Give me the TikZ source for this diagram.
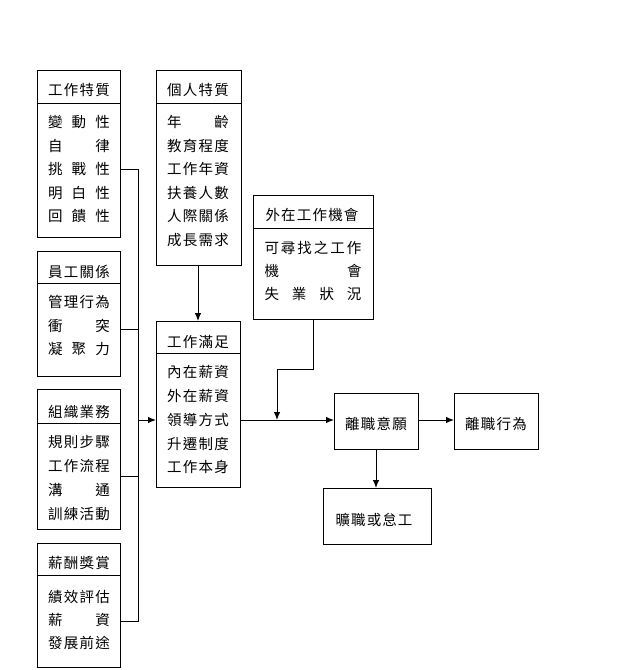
\documentclass[tikz,border=0pt]{standalone}
\usepackage{fontspec}
\setmainfont{Noto Sans CJK TC}
\usetikzlibrary{arrows.meta}
\newcommand\jr[2]{\makebox[#1][s]{#2}}
\tikzset{
  box/.style={draw, line width=1pt, inner sep=0pt, outer sep=0pt},
  txt/.style={inner sep=0pt, font=\fontsize{14.5}{14.5}\selectfont},
  conn/.style={line width=1pt},
  arr/.style={conn, -{Latex[length=8pt,width=6.5pt]}},
}
\begin{document}
\begin{tikzpicture}[x=1pt,y=-1pt]
\fill[white] (0,0) rectangle (640,670);
\useasboundingbox (0,0) rectangle (640,670);
% boxes
\node[box, minimum width=83pt, minimum height=167pt] (b1) at (78.5,153.5) {};
\node[box, minimum width=85pt, minimum height=195pt] (b2) at (198.5,167.5) {};
\node[box, minimum width=83pt, minimum height=125pt] (b3) at (78.5,313.5) {};
\node[box, minimum width=83pt, minimum height=140pt] (b4) at (78.5,459) {};
\node[box, minimum width=83pt, minimum height=124pt] (b5) at (78.5,605) {};
\node[box, minimum width=84pt, minimum height=166pt] (b6) at (198,404) {};
\node[box, minimum width=120pt, minimum height=124pt] (b7) at (313,257) {};
\node[box, minimum width=84pt, minimum height=56pt] (b8) at (376,421) {};
\node[box, minimum width=84pt, minimum height=56pt] (b9) at (496,421) {};
\node[box, minimum width=108pt, minimum height=56pt] (b10) at (377,516) {};
% dividers
\draw[conn] (b1.west |- 0,103) -- (b1.east |- 0,103);
\draw[conn] (b2.west |- 0,103) -- (b2.east |- 0,103);
\draw[conn] (b3.west |- 0,283) -- (b3.east |- 0,283);
\draw[conn] (b4.west |- 0,423) -- (b4.east |- 0,423);
\draw[conn] (b5.west |- 0,575) -- (b5.east |- 0,575);
\draw[conn] (b6.west |- 0,353) -- (b6.east |- 0,353);
\draw[conn] (b7.west |- 0,228) -- (b7.east |- 0,228);
% texts box1
\node[txt] (t1) at (79,90) {\jr{62pt}{工\hfill 作\hfill 特\hfill 質}};
\node[txt] (t1a) at (79,122) {\jr{62pt}{變\hfill 動\hfill 性}};
\node[txt] (t1b) at (79,146) {\jr{62pt}{自\hfill 律}};
\node[txt] (t1c) at (79,169) {\jr{62pt}{挑\hfill 戰\hfill 性}};
\node[txt] (t1d) at (79,193) {\jr{62pt}{明\hfill 白\hfill 性}};
\node[txt] (t1e) at (79,216) {\jr{62pt}{回\hfill 饋\hfill 性}};
% box2
\node[txt] (t2) at (198,90) {\jr{62pt}{個\hfill 人\hfill 特\hfill 質}};
\node[txt] (t2a) at (198,122) {\jr{62pt}{年\hfill 齡}};
\node[txt] (t2b) at (198,146) {\jr{62pt}{教\hfill 育\hfill 程\hfill 度}};
\node[txt] (t2c) at (198,169) {\jr{62pt}{工\hfill 作\hfill 年\hfill 資}};
\node[txt] (t2d) at (198,193) {\jr{62pt}{扶\hfill 養\hfill 人\hfill 數}};
\node[txt] (t2e) at (198,216) {\jr{62pt}{人\hfill 際\hfill 關\hfill 係}};
\node[txt] (t2f) at (198,240) {\jr{62pt}{成\hfill 長\hfill 需\hfill 求}};
% box3
\node[txt] (t3) at (79,272) {\jr{62pt}{員\hfill 工\hfill 關\hfill 係}};
\node[txt] (t3a) at (79,302) {\jr{62pt}{管\hfill 理\hfill 行\hfill 為}};
\node[txt] (t3b) at (79,326) {\jr{62pt}{衝\hfill 突}};
\node[txt] (t3c) at (79,349) {\jr{62pt}{凝\hfill 聚\hfill 力}};
% box4
\node[txt] (t4) at (79,412) {\jr{62pt}{組\hfill 織\hfill 業\hfill 務}};
\node[txt] (t4a) at (79,442) {\jr{62pt}{規\hfill 則\hfill 步\hfill 驟}};
\node[txt] (t4b) at (79,466) {\jr{62pt}{工\hfill 作\hfill 流\hfill 程}};
\node[txt] (t4c) at (79,490) {\jr{62pt}{溝\hfill 通}};
\node[txt] (t4d) at (79,514) {\jr{62pt}{訓\hfill 練\hfill 活\hfill 動}};
% box5
\node[txt] (t5) at (79,563) {\jr{62pt}{薪\hfill 酬\hfill 獎\hfill 賞}};
\node[txt] (t5a) at (79,597) {\jr{62pt}{績\hfill 效\hfill 評\hfill 估}};
\node[txt] (t5b) at (79,620) {\jr{62pt}{薪\hfill 資}};
\node[txt] (t5c) at (79,643) {\jr{62pt}{發\hfill 展\hfill 前\hfill 途}};
% box6
\node[txt] (t6) at (198,342) {\jr{62pt}{工\hfill 作\hfill 滿\hfill 足}};
\node[txt] (t6a) at (198,372) {\jr{62pt}{內\hfill 在\hfill 薪\hfill 資}};
\node[txt] (t6b) at (198,396) {\jr{62pt}{外\hfill 在\hfill 薪\hfill 資}};
\node[txt] (t6c) at (198,420) {\jr{62pt}{領\hfill 導\hfill 方\hfill 式}};
\node[txt] (t6d) at (198,444) {\jr{62pt}{升\hfill 遷\hfill 制\hfill 度}};
\node[txt] (t6e) at (198,467) {\jr{62pt}{工\hfill 作\hfill 本\hfill 身}};
% box7
\node[txt] (t7) at (312,215) {\jr{93pt}{外\hfill 在\hfill 工\hfill 作\hfill 機\hfill 會}};
\node[txt] (t7a) at (313,248) {\jr{97pt}{可\hfill 尋\hfill 找\hfill 之\hfill 工\hfill 作}};
\node[txt] (t7b) at (313,271) {\jr{97pt}{機\hfill 會}};
\node[txt] (t7c) at (313,294) {\jr{97pt}{失\hfill 業\hfill 狀\hfill 況}};
% right boxes
\node[txt] (t8) at (376,424) {\jr{62pt}{離\hfill 職\hfill 意\hfill 願}};
\node[txt] (t9) at (496,424) {\jr{62pt}{離\hfill 職\hfill 行\hfill 為}};
\node[txt] (t10) at (374,520) {\jr{77pt}{曠\hfill 職\hfill 或\hfill 怠\hfill 工}};
% connectors
\coordinate (jt) at (138,169);
\coordinate (j3) at (138,329);
\coordinate (ja) at (138,420);
\coordinate (j4) at (138,476);
\coordinate (jb) at (138,621);
\draw[conn] (b1.east |- jt) -- (jt) -- (jb) -- (b5.east |- jb);
\draw[conn] (b3.east |- j3) -- (j3);
\draw[conn] (b4.east |- j4) -- (j4);
\draw[arr] (ja) -- (b6.west |- ja);
\draw[arr] (b2.south -| 198,0) -- (b6.north);
\coordinate (k2) at (277,369);
\coordinate (k3) at (277,420);
\draw[arr] (b7.south) |- (k2) -- (k3);
\draw[arr] (b6.east |- k3) -- (b8.west |- k3);
\draw[arr] (b8.east |- k3) -- (b9.west |- k3);
\draw[arr] (b8.south) -- (b8.south |- b10.north);
\end{tikzpicture}
\end{document}
